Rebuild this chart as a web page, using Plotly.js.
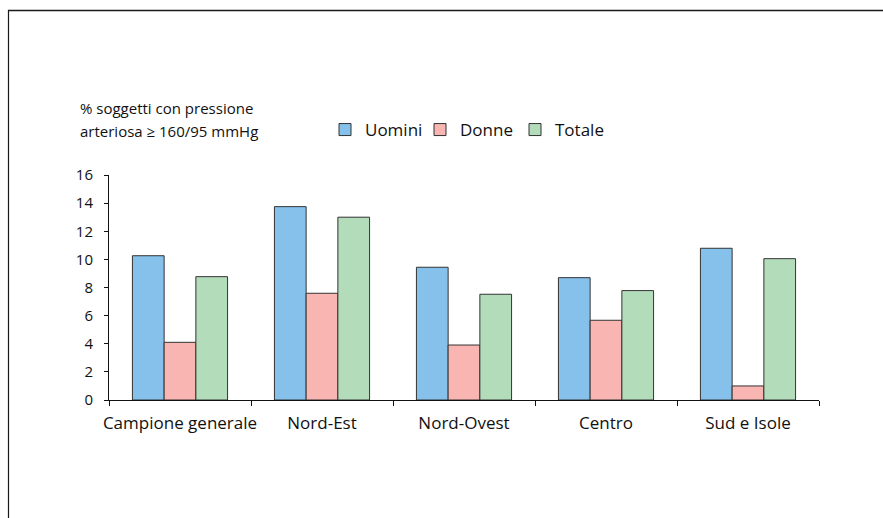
<!DOCTYPE html>
<html>
<head>
<meta charset="utf-8">
<script src="https://cdn.plot.ly/plotly-3.0.1.min.js"></script>
<style>
  html, body { margin: 0; padding: 0; background: #fff; }
  #chart { width: 883px; height: 518px; }
</style>
</head>
<body>
<div id="chart"></div>
<script>
// Aree geografiche
const categories = ["Campione generale", "Nord-Est", "Nord-Ovest", "Centro", "Sud e Isole"];

// % soggetti con pressione arteriosa >= 160/95 mmHg
const uomini = [10.26, 13.75, 9.44, 8.70, 10.79];
const donne  = [4.10, 7.59, 3.91, 5.67, 1.00];
const totale = [8.77, 13.00, 7.52, 7.78, 10.05];

const seriesNames = ["Uomini", "Donne", "Totale"];
const yTicks = [0, 2, 4, 6, 8, 10, 12, 14, 16];

const FONT = '"Open Sans", "Noto Sans", sans-serif';
const colors = ["#85C1EA", "#F8B5B2", "#B3DCBB"];

const traces = [uomini, donne, totale].map((vals, i) => ({
  type: "bar",
  name: seriesNames[i],
  x: categories,
  y: vals,
  marker: { color: colors[i], line: { color: "#333333", width: 1 } },
  hoverinfo: "x+y+name"
}));

// plot area: x 109..819, y 175..400 (px)
const L = 109, R = 883 - 819, T = 175, B = 518 - 400;
const pw = 883 - L - R, ph = 518 - T - B;
const px = v => (v - L) / pw;
const py = v => (518 - B - v) / ph;

const layout = {
  width: 883,
  height: 518,
  margin: { l: L, r: R, t: T, b: B, pad: 0 },
  paper_bgcolor: "#ffffff",
  plot_bgcolor: "#ffffff",
  font: { family: FONT, color: "#111111", size: 15 },
  barmode: "group",
  bargap: 0.33,
  bargroupgap: 0,
  showlegend: true,
  legend: {
    orientation: "h",
    x: px(325), xanchor: "left",
    y: py(130), yanchor: "middle",
    font: { family: FONT, size: 17, color: "#111111" },
    entrywidth: 50,
    itemwidth: 30,
    bgcolor: "rgba(0,0,0,0)",
    traceorder: "normal"
  },
  xaxis: {
    type: "category",
    showline: true,
    linecolor: "#111111",
    linewidth: 1,
    ticks: "outside",
    tickson: "boundaries",
    ticklen: 5,
    tickcolor: "#111111",
    tickangle: 0,
    ticklabelstandoff: 8,
    showgrid: false,
    zeroline: false,
    tickfont: { family: FONT, size: 17, color: "#111111" },
    fixedrange: true
  },
  yaxis: {
    range: [0, 16],
    tickvals: yTicks,
    ticktext: yTicks.map(String),
    showline: true,
    linecolor: "#111111",
    linewidth: 1,
    ticks: "outside",
    ticklen: 4,
    tickcolor: "#111111",
    ticklabelstandoff: 8,
    showgrid: false,
    zeroline: false,
    tickfont: { family: FONT, size: 15, color: "#111111" },
    fixedrange: true
  },
  annotations: [
    {
      xref: "paper", yref: "paper",
      x: px(78), y: py(108), xanchor: "left", yanchor: "middle",
      text: "% soggetti con pressione",
      showarrow: false,
      font: { family: FONT, size: 15, color: "#111111" }
    },
    {
      xref: "paper", yref: "paper",
      x: px(78), y: py(131), xanchor: "left", yanchor: "middle",
      text: "arteriosa ≥ 160/95 mmHg",
      showarrow: false,
      font: { family: FONT, size: 15, color: "#111111" }
    }
  ],
  shapes: [
    // frame: top and left edges
    { type: "line", xref: "paper", yref: "paper",
      x0: px(8), x1: px(883), y0: py(10.5), y1: py(10.5),
      line: { color: "#1a1a1a", width: 1.5 } },
    { type: "line", xref: "paper", yref: "paper",
      x0: px(8.5), x1: px(8.5), y0: py(10), y1: py(518),
      line: { color: "#1a1a1a", width: 1.2 } }
  ]
};

Plotly.newPlot("chart", traces, layout, { displayModeBar: false, staticPlot: true });
</script>
</body>
</html>
